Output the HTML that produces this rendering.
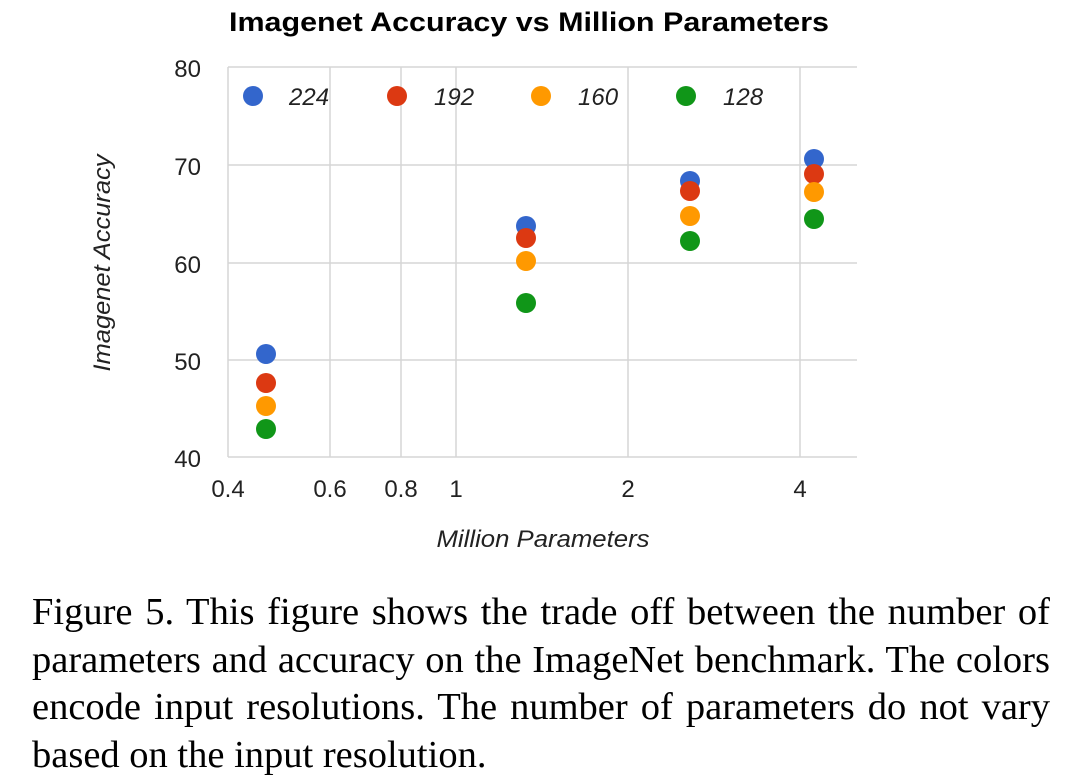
<!DOCTYPE html>
<html><head><meta charset="utf-8"><style>
html,body{margin:0;padding:0;background:#fff;width:1072px;height:780px;overflow:hidden}
.cap{position:absolute;left:32px;top:589px;width:1018px;font-family:"Liberation Serif",serif;font-size:38.5px;line-height:47.5px;color:#000}
.cap div{text-align:justify;text-align-last:justify;white-space:nowrap}
.cap div.l{text-align-last:left}
</style></head><body>
<svg width="1072" height="590" style="position:absolute;left:0;top:0" font-family="Liberation Sans, sans-serif">
<text x="529" y="31" text-anchor="middle" font-size="27" font-weight="bold" fill="#000" textLength="600" lengthAdjust="spacingAndGlyphs">Imagenet Accuracy vs Million Parameters</text>
<g stroke="#d6d6d6" stroke-width="1.5">
<line x1="228" y1="67" x2="857" y2="67"/><line x1="228" y1="165" x2="857" y2="165"/>
<line x1="228" y1="263" x2="857" y2="263"/><line x1="228" y1="360" x2="857" y2="360"/>
<line x1="228" y1="457" x2="857" y2="457"/>
<line x1="228" y1="67" x2="228" y2="457"/><line x1="330" y1="67" x2="330" y2="457"/>
<line x1="401" y1="67" x2="401" y2="457"/><line x1="456" y1="67" x2="456" y2="457"/>
<line x1="628" y1="67" x2="628" y2="457"/><line x1="800" y1="67" x2="800" y2="457"/>
</g>
<g font-size="24" fill="#222" text-anchor="end">
<text x="201" y="77">80</text><text x="201" y="175">70</text><text x="201" y="273">60</text><text x="201" y="370">50</text><text x="201" y="467">40</text>
</g>
<g font-size="24" fill="#222" text-anchor="middle">
<text x="228" y="497">0.4</text><text x="330" y="497">0.6</text><text x="401" y="497">0.8</text><text x="456" y="497">1</text><text x="628" y="497">2</text><text x="800" y="497">4</text>
</g>
<text x="543" y="547" text-anchor="middle" font-size="24" font-style="italic" fill="#222" textLength="213" lengthAdjust="spacingAndGlyphs">Million Parameters</text>
<text transform="translate(110,263) rotate(-90)" text-anchor="middle" font-size="24" font-style="italic" fill="#222" textLength="217" lengthAdjust="spacingAndGlyphs">Imagenet Accuracy</text>
<g font-size="24" font-style="italic" fill="#222">
<circle cx="253" cy="96" r="10" fill="#3366cc"/><text x="289" y="105">224</text>
<circle cx="397" cy="96" r="10" fill="#dc3912"/><text x="434" y="105">192</text>
<circle cx="541" cy="96" r="10" fill="#ff9900"/><text x="578" y="105">160</text>
<circle cx="686" cy="96" r="10" fill="#109618"/><text x="723" y="105">128</text>
</g>
<g>
<circle cx="266" cy="354" r="10" fill="#3366cc"/><circle cx="266" cy="383" r="10" fill="#dc3912"/><circle cx="266" cy="406" r="10" fill="#ff9900"/><circle cx="266" cy="429" r="10" fill="#109618"/>
<circle cx="526" cy="226" r="10" fill="#3366cc"/><circle cx="526" cy="238" r="10" fill="#dc3912"/><circle cx="526" cy="261" r="10" fill="#ff9900"/><circle cx="526" cy="303" r="10" fill="#109618"/>
<circle cx="690" cy="181" r="10" fill="#3366cc"/><circle cx="690" cy="191" r="10" fill="#dc3912"/><circle cx="690" cy="216" r="10" fill="#ff9900"/><circle cx="690" cy="241" r="10" fill="#109618"/>
<circle cx="814" cy="159" r="10" fill="#3366cc"/><circle cx="814" cy="174" r="10" fill="#dc3912"/><circle cx="814" cy="192" r="10" fill="#ff9900"/><circle cx="814" cy="219" r="10" fill="#109618"/>
</g>
</svg>
<div class="cap">
<div>Figure 5. This figure shows the trade off between the number of</div>
<div>parameters and accuracy on the ImageNet benchmark. The colors</div>
<div>encode input resolutions. The number of parameters do not vary</div>
<div class="l">based on the input resolution.</div>
</div>
</body></html>
